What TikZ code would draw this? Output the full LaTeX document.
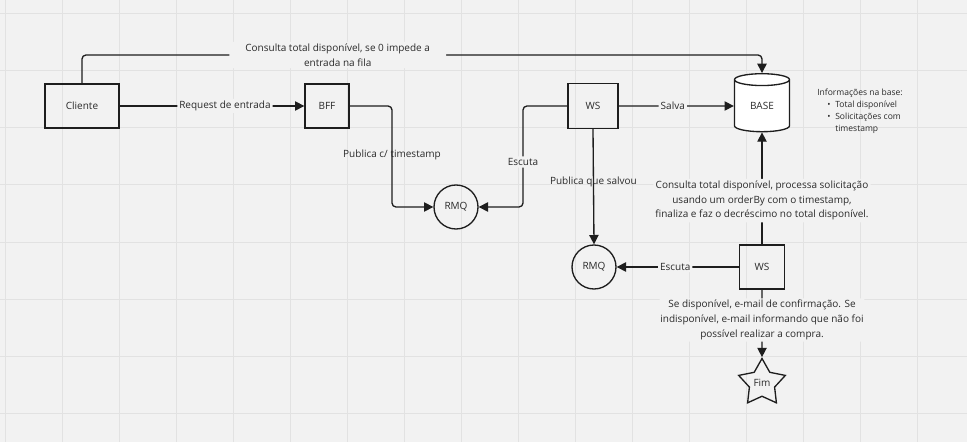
\documentclass[tikz,border=0pt]{standalone}
\usepackage{fontspec}
\setmainfont{Open Sans}
\usetikzlibrary{arrows.meta,shapes.geometric}
\definecolor{bg}{HTML}{F2F2F2}
\definecolor{gridc}{HTML}{E2E2E2}
\definecolor{ink}{HTML}{1E1E1E}
\definecolor{txt}{HTML}{2A2A2A}
\begin{document}
\begin{tikzpicture}[x=0.75pt,y=-0.75pt,
  box/.style={draw=ink, line width=1pt, rectangle, inner sep=0pt,
    font=\fontsize{7.5}{11}\selectfont, text=txt},
  queue/.style={draw=ink, line width=1pt, circle, inner sep=0pt,
    minimum size=33pt, font=\fontsize{7.5}{11}\selectfont, text=txt},
  conn/.style={draw=ink, line width=1pt, rounded corners=3pt,
    -{Triangle[length=7pt,width=7pt]}},
  lbl/.style={fill=bg, inner sep=1.5pt, align=center, text=txt,
    font=\fontsize{7.5}{11}\selectfont},
  lblclear/.style={inner sep=1pt, align=center, text=txt,
    font=\fontsize{7.5}{11}\selectfont},
  infotext/.style={align=left, text=txt, inner sep=0pt,
    font=\fontsize{6.4}{9}\selectfont}
]
\useasboundingbox (0,0) rectangle (967,442);
\fill[bg] (0,0) rectangle (967,442);
\foreach \gx in {5,62,...,967} \draw[gridc, line width=0.75pt] (\gx,0) -- (\gx,442);
\foreach \gy in {14,71,...,442} \draw[gridc, line width=0.75pt] (0,\gy) -- (967,\gy);

% nodes
\node[box, minimum width=55.5pt, minimum height=33pt] (cliente) at (82,106) {Cliente};
\node[box, minimum width=33pt, minimum height=33pt] (bff) at (327,106) {BFF};
\node[box, minimum width=37.5pt, minimum height=33.75pt] (ws1) at (593,106) {WS};
\node[draw=ink, line width=1pt, fill=white, cylinder, shape border rotate=90,
  shape aspect=0.5, minimum height=43.5pt, minimum width=41.25pt, inner sep=0pt,
  font=\fontsize{7.5}{11}\selectfont, text=txt] (base) at (762,106) {BASE};
\node[queue] (rmq1) at (456,207) {RMQ};
\node[queue] (rmq2) at (594,267) {RMQ};
\node[box, minimum width=33.75pt, minimum height=33pt] (ws2) at (762,267) {WS};
\node[draw=ink, line width=1pt, star, star points=5, star point ratio=1.85,
  minimum size=36.75pt, inner sep=0pt, font=\fontsize{7.5}{11}\selectfont, text=txt]
  (fim) at (762,383) {Fim};

\node[infotext, anchor=north west] (info) at (817,87) {%
  \begin{tabular}{@{}l@{}l@{\hspace{3.6pt}}l@{}}
  \multicolumn{3}{@{}l@{}}{Informações na base:}\\
  \hspace{7.5pt} & • & Total disponível\\
   & • & Solicitações com\\
   & & timestamp
  \end{tabular}};

% helper coordinates
\coordinate (top) at (762,55);
\coordinate (b1) at (392,207);
\coordinate (e1) at (523,207);

% connectors
\draw[conn] (cliente.north) |- (top)
  node[lbl, pos=0.688, inner xsep=12pt] {Consulta total disponível, se 0 impede a\\entrada na fila}
  -- (base.north);
\draw[conn] (cliente.east) -- node[lbl, pos=0.57] {Request de entrada} (bff.west);
\draw[conn] (bff.east) -| (b1) node[lblclear, pos=0.743] {Publica c/ timestamp} -- (rmq1.west);
\draw[conn] (ws1.west) -| (e1) node[lbl, pos=0.777] {Escuta} -- (rmq1.east);
\draw[conn] (ws1.east) -- node[lbl, pos=0.47] {Salva} (base.west);
\draw[conn] (ws1.south) -- node[lblclear, pos=0.46] {Publica que salvou} (rmq2.north);
\draw[conn] (ws2.west) -- node[lbl, pos=0.52] {Escuta} (rmq2.east);
\draw[conn] (ws2.north) -- node[lbl, pos=0.39] {Consulta total disponível, processa solicitação\\usando um orderBy com o timestamp,\\finaliza e faz o decréscimo no total disponível.} (base.south);
\draw[conn] (ws2.south) -- node[lbl, pos=0.45] {Se disponível, e-mail de confirmação. Se\\indisponível, e-mail informando que não foi\\possível realizar a compra.} (fim.north);
\end{tikzpicture}
\end{document}
